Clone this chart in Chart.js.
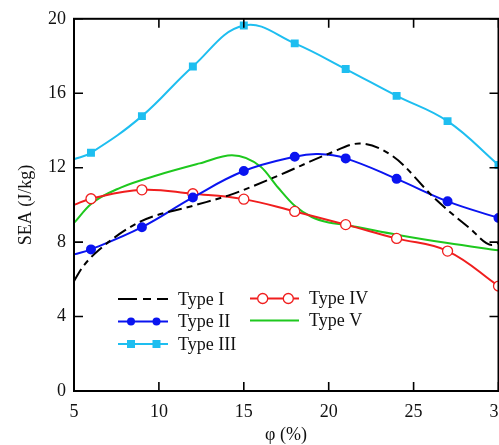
<!DOCTYPE html>
<html><head><meta charset="utf-8">
<script src="https://cdn.jsdelivr.net/npm/chart.js@4/dist/chart.umd.min.js"></script>
<style>html,body{margin:0;padding:0;overflow:hidden;background:#fff}
#wrap{width:499px;height:445px;overflow:hidden;position:relative;background:#fff}
#c{position:absolute;left:0;top:0}
</style></head><body><div id="wrap"><canvas id="c" width="540" height="445" style="width:540px;height:445px"></canvas></div>
<script>
// ---- data ----
const xTicks = [5, 10, 15, 20, 25, 30];
const yTicks = [0, 4, 8, 12, 16, 20];
const seriesNames = ["Type I", "Type II", "Type III", "Type IV", "Type V"];
const phiMarked = [5, 6, 9, 12, 15, 18, 21, 24, 27, 30];
const phiII   = [5, 6, 9, 12, 15, 18, 19.4, 21, 24, 27, 30];
const typeII  = [7.34, 7.61, 8.8, 10.4, 11.82, 12.59, 12.73, 12.5, 11.4, 10.19, 9.3];
const markII  = [0, 1, 1, 1, 1, 1, 0, 1, 1, 1, 1];
const typeIII = [12.45, 12.8, 14.77, 17.44, 19.64, 18.68, 17.3, 15.86, 14.5, 12.14];
const typeIV  = [10.0, 10.33, 10.81, 10.6, 10.31, 9.65, 8.94, 8.2, 7.52, 5.64];
const typeIPhi = [5, 5.5, 6.5, 8.9, 12, 14.2, 17.1, 20, 21.8, 23.8, 26.3, 28.3, 29.6, 30];
const typeI    = [5.9, 6.65, 7.6, 9.1, 9.95, 10.54, 11.6, 12.75, 13.3, 12.6, 10.3, 8.75, 7.85, 7.95];
const typeVPhi = [5, 6, 7.75, 10, 12.4, 14.3, 16, 17, 18, 19, 20, 21, 24, 27, 30];
const typeV    = [9.03, 10.05, 10.93, 11.62, 12.23, 12.67, 12.05, 10.95, 9.95, 9.35, 9.05, 8.92, 8.4, 7.95, 7.56];

const colors = ["#000000", "#0a14f0", "#1ebef0", "#f01e1e", "#1ec81e"];
const FONT = '"Liberation Serif", "Times New Roman", serif';

function pts(xs, ys) { return xs.map((x, i) => ({x: x, y: ys[i]})); }
const hideFirst = r => phiMarked.map((x, i) => i === 0 ? 0 : r);

const datasets = [
  {label: seriesNames[0], data: pts(typeIPhi, typeI), borderColor: colors[0], borderWidth: 2,
   borderDash: [14, 5, 6, 5], pointRadius: 0, cubicInterpolationMode: 'monotone'},
  {label: seriesNames[1], data: pts(phiII, typeII), borderColor: colors[1], backgroundColor: colors[1],
   borderWidth: 2, pointRadius: markII.map(m => m ? 4 : 0), pointStyle: 'circle', tension: 0.4},
  {label: seriesNames[2], data: pts(phiMarked, typeIII), borderColor: colors[2], backgroundColor: colors[2],
   borderWidth: 2, pointRadius: hideFirst(4.2), pointStyle: 'rect', tension: 0.4},
  {label: seriesNames[3], data: pts(phiMarked, typeIV), borderColor: colors[3], backgroundColor: '#ffffff',
   borderWidth: 2, pointBorderWidth: 1.3, pointRadius: hideFirst(5), pointStyle: 'circle', tension: 0.4},
  {label: seriesNames[4], data: pts(typeVPhi, typeV), borderColor: colors[4], borderWidth: 2,
   pointRadius: 0, cubicInterpolationMode: 'monotone'}
];
datasets.forEach(d => { d.clip = false; d.fill = false; });

const framePlugin = {
  id: 'frame',
  afterDraw(chart) {
    const ctx = chart.ctx, a = chart.chartArea;
    const xs = chart.scales.x, ys = chart.scales.y;
    ctx.save();
    ctx.strokeStyle = '#000'; ctx.lineWidth = 2;
    ctx.strokeRect(a.left, a.top, a.right - a.left, a.bottom - a.top);
    ctx.lineWidth = 1.6;
    ctx.beginPath();
    xTicks.forEach(v => { const p = xs.getPixelForValue(v);
      ctx.moveTo(p, a.bottom); ctx.lineTo(p, a.bottom - 9);
      ctx.moveTo(p, a.top); ctx.lineTo(p, a.top + 9); });
    yTicks.forEach(v => { const p = ys.getPixelForValue(v);
      ctx.moveTo(a.left, p); ctx.lineTo(a.left + 9, p);
      ctx.moveTo(a.right, p); ctx.lineTo(a.right - 9, p); });
    ctx.stroke();
    // axis titles
    ctx.fillStyle = '#111';
    ctx.font = '18px ' + FONT;
    ctx.textAlign = 'center'; ctx.textBaseline = 'middle';
    ctx.fillText('φ (%)', 286, 435);
    ctx.save(); ctx.translate(26, (a.top + a.bottom) / 2); ctx.rotate(-Math.PI / 2);
    ctx.fillText('SEA (J/kg)', 0, 0); ctx.restore();
    // legend
    const entries = [
      {i: 0, x0: 118, x1: 168, y: 299, m: []},
      {i: 1, x0: 118, x1: 168, y: 321.5, m: [131, 156.5]},
      {i: 2, x0: 118, x1: 168, y: 344, m: [131, 156.5]},
      {i: 3, x0: 250, x1: 299, y: 298.5, m: [262.7, 288.3]},
      {i: 4, x0: 250, x1: 299, y: 320.5, m: []}
    ];
    entries.forEach(e => {
      const d = chart.data.datasets[e.i];
      ctx.save();
      ctx.strokeStyle = d.borderColor; ctx.lineWidth = 2;
      ctx.setLineDash(e.i === 0 ? [19, 6, 8, 6] : []);
      ctx.beginPath(); ctx.moveTo(e.x0, e.y); ctx.lineTo(e.x1, e.y); ctx.stroke();
      ctx.setLineDash([]);
      e.m.forEach(mx => {
        ctx.beginPath();
        if (d.pointStyle === 'rect') {
          ctx.fillStyle = d.backgroundColor; ctx.fillRect(mx - 4, e.y - 4, 8, 8);
        } else {
          ctx.arc(mx, e.y, e.i === 3 ? 5 : 4, 0, Math.PI * 2);
          ctx.fillStyle = d.backgroundColor; ctx.fill();
          if (e.i === 3) { ctx.lineWidth = 1.3; ctx.stroke(); }
        }
      });
      ctx.fillStyle = '#111'; ctx.font = '18px ' + FONT;
      ctx.textAlign = 'left'; ctx.textBaseline = 'middle';
      ctx.fillText(d.label, e.x1 + 10, e.y + 1);
      ctx.restore();
    });
    ctx.restore();
  }
};

new Chart(document.getElementById('c'), {
  type: 'line',
  data: {datasets: datasets},
  options: {
    responsive: false, animation: false, devicePixelRatio: 1,
    layout: {padding: {left: 0, right: 41.5, top: 16, bottom: 0}},
    plugins: {legend: {display: false}, tooltip: {enabled: false}},
    scales: {
      x: {type: 'linear', min: 5, max: 30,
          afterBuildTicks: s => { s.ticks = xTicks.map(v => ({value: v})); },
          afterFit: s => { s.height = 54; },
          grid: {display: false, drawTicks: false}, border: {display: false},
          ticks: {padding: 10, color: '#111', font: {family: FONT, size: 18}, maxRotation: 0}},
      y: {type: 'linear', min: 0, max: 20,
          afterBuildTicks: s => { s.ticks = yTicks.map(v => ({value: v})); },
          afterFit: s => { s.width = 74; },
          grid: {display: false, drawTicks: false}, border: {display: false},
          ticks: {padding: 8, color: '#111', font: {family: FONT, size: 18}}}
    }
  },
  plugins: [framePlugin]
});
</script></body></html>
